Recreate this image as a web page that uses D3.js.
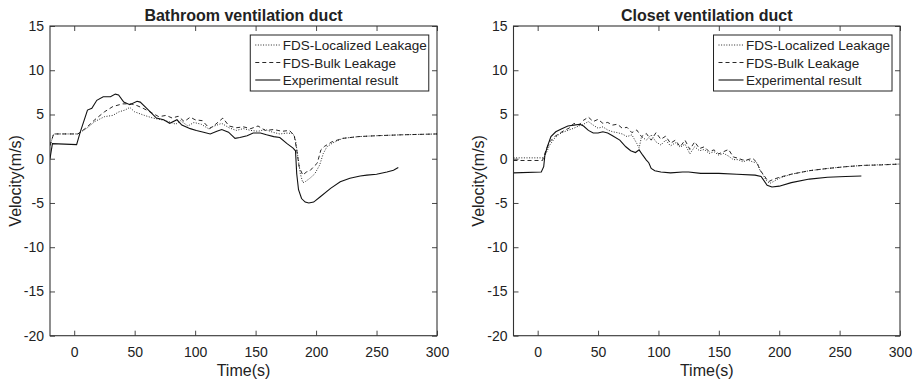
<!DOCTYPE html>
<html><head><meta charset="utf-8">
<script src="https://cdn.jsdelivr.net/npm/d3@7"></script>
<style>body{margin:0;background:#fff}svg{display:block}text{font-family:"Liberation Sans",Arial,sans-serif;fill:#222}</style>
</head><body><svg id="c" width="917" height="381"></svg>
<script>
// ---------- data ----------
const xTicks = [0, 50, 100, 150, 200, 250, 300];
const yTicks = [15, 10, 5, 0, -5, -10, -15, -20];
const seriesNames = ["FDS-Localized Leakage", "FDS-Bulk Leakage", "Experimental result"];
const panelTitles = ["Bathroom ventilation duct", "Closet ventilation duct"];

// Bathroom
const bathExpT = [-20,-18,2,5,11,14.6,18.7,24,30,34,36.7,41,46,52,54.6,60,68,74,79,85,89,96,101,107,112.5,118,122,127.6,133,137,143,148,154,159,165,170,176,181,183,184,185.5,188,191,194,198,203.5,212,220,228,236.5,242,250,258.6,264,268];
const bathExpV = [0,1.7,1.6,3,5.5,5.7,6.6,7.0,7.0,7.3,7.2,6.4,6.1,6.5,6.4,5.7,4.6,4.4,4.0,4.4,3.8,3.4,3.2,3.0,2.8,3.1,3.3,3.0,2.3,2.4,2.6,2.9,2.9,2.7,2.5,2.4,1.7,1.2,0.9,-1.7,-3.5,-4.5,-4.9,-5.0,-4.9,-4.3,-3.35,-2.6,-2.2,-1.95,-1.85,-1.75,-1.5,-1.3,-1.0];
const bathBulkT = [-20,-17,3,10,17,25,32,40,47,52,57,64,70,76,81,86,91,96,100,106,112,117,123,128,134,140,146,152,158,165,172,178,182,184,186,189,192,195,198,201,204,207,213,222,235,250,270,300];
const bathBulkV = [1.5,2.8,2.8,3.5,4.4,5.3,5.9,6.2,6.2,6.0,5.7,5.2,4.75,4.9,4.6,4.8,4.2,4.7,4.4,4.3,3.4,3.9,4.6,3.7,3.5,3.6,3.4,3.7,3.2,3.3,3.1,3.2,2.6,1.0,-0.9,-1.85,-1.5,-1.35,-0.9,-0.5,1.0,1.4,1.9,2.3,2.5,2.6,2.7,2.8];
const bathLocT = [-20,-17,3,10,17,25,32,37,42,46,50,58,65,72,78,84,88,94,99,105,111,116,122,128,134,140,146,152,158,164,170,176,181,183,185,187,189,191,195,199,203,206,209,214,222,235,250,270,300];
const bathLocV = [1.5,2.8,2.8,3.4,4.2,4.75,4.9,5.3,5.5,5.8,5.3,4.9,4.6,4.4,4.2,3.9,4.3,3.7,4.1,3.9,3.4,3.7,4.0,3.5,3.2,3.4,3.2,3.1,3.3,3.0,2.8,2.9,2.85,2.1,0.2,-1.7,-2.7,-2.6,-2.2,-1.7,-0.7,0.6,1.35,1.8,2.3,2.5,2.6,2.7,2.8];

// Closet
const closExpT = [-20,3,5,6,8,11,15,20,25,30,35,38,42,46,50,54,58,62,68,73,77,81,84,87,90,92,94,97,102,110,120,125,135,150,165,180,185,190,194,200,210,225,240,255,268];
const closExpV = [-1.6,-1.5,-0.9,0.4,1.35,2.5,3.05,3.4,3.7,3.8,3.9,3.7,3.2,2.9,2.9,3.05,2.9,2.6,2.1,1.35,0.9,0.7,1.0,0.4,-0.15,-0.45,-1.1,-1.35,-1.5,-1.6,-1.5,-1.5,-1.65,-1.65,-1.75,-1.85,-2.0,-3.0,-3.2,-3.1,-2.7,-2.3,-2.1,-2.0,-1.95];
const closBulkT = [-20,4,5,7,10,14,18,22,26,30,34,38,42,46,50,54,58,62,66,70,74,78,82,86,90,94,98,102,106,110,114,118,122,126,130,134,138,142,146,150,154,158,162,166,170,174,178,181,183,185,188,191,194,200,210,225,240,255,270,285,300];
const closBulkV = [-0.2,-0.2,0.2,1.0,1.9,2.5,2.85,3.2,3.45,4.0,3.8,4.35,4.7,4.2,4.45,4.0,4.1,3.8,3.9,3.45,3.55,2.95,3.25,2.5,2.85,2.1,2.95,2.2,2.55,1.75,2.1,1.35,2.1,1.05,1.9,1.15,1.35,0.8,1.0,0.55,0.8,1.05,0.2,0.05,-0.15,-0.1,0.05,-0.35,-0.9,-1.45,-2.0,-2.6,-2.4,-2.1,-1.75,-1.35,-1.1,-0.9,-0.75,-0.7,-0.6];
const closLocT = [-20,5,7,10,14,18,22,26,30,34,38,42,46,50,54,58,62,66,70,74,78,82,84,86,90,94,98,102,106,110,114,118,122,126,130,134,138,142,146,150,154,158,162,166,170,174,178,182,184,186,189,192,195,200,210,225,240,255,270,300];
const closLocV = [0.1,0.1,0.6,1.55,2.3,2.8,3.05,3.25,3.45,3.7,3.9,4.2,3.8,3.45,3.6,3.25,3.05,2.95,2.8,2.5,2.7,1.75,1.2,2.5,2.1,2.7,1.9,1.55,2.1,1.45,1.8,1.3,1.65,0.55,1.35,0.9,1.05,0.6,0.8,0.4,0.6,0.3,-0.1,-0.1,-0.35,-0.15,-0.35,-0.5,-1.3,-1.65,-2.4,-2.8,-2.6,-2.2,-1.75,-1.35,-1.1,-0.9,-0.75,-0.6];

// ---------- drawing ----------
const svg = d3.select("#c");
const dashes = ["1,1.6", "4,3", null];
const panels = [
  {left: 50, right: 437, title: panelTitles[0],
   series: [[bathLocT, bathLocV], [bathBulkT, bathBulkV], [bathExpT, bathExpV]]},
  {left: 513.5, right: 900, title: panelTitles[1],
   series: [[closLocT, closLocV], [closBulkT, closBulkV], [closExpT, closExpV]]}
];
const plotTop = 26, plotBottom = 335.7;

panels.forEach(p => {
  const x = d3.scaleLinear().domain([-20, 300]).range([p.left, p.right]);
  const y = d3.scaleLinear().domain([-20, 15]).range([plotBottom, plotTop]);
  const g = svg.append("g");
  const tl = 5;

  const ax = (gen, tr) => g.append("g").attr("transform", tr).call(gen);
  const xb = ax(d3.axisBottom(x).tickValues(xTicks).tickSizeInner(-tl).tickSizeOuter(0).tickPadding(11), `translate(0,${plotBottom})`);
  const xt = ax(d3.axisTop(x).tickValues(xTicks).tickSizeInner(-tl).tickSizeOuter(0).tickFormat(""), `translate(0,${plotTop})`);
  const yl = ax(d3.axisLeft(y).tickValues(yTicks).tickSizeInner(-tl).tickSizeOuter(0).tickPadding(6), `translate(${p.left},0)`);
  const yr = ax(d3.axisRight(y).tickValues(yTicks).tickSizeInner(-tl).tickSizeOuter(0).tickFormat(""), `translate(${p.right},0)`);
  [xb, xt, yl, yr].forEach(a => {
    a.select(".domain").remove();
    a.selectAll("line").attr("stroke", "#333").attr("stroke-width", 0.9);
    a.selectAll("text").style("font-size", "14px").attr("fill", "#222");
  });
  yl.selectAll("text").text(d => d < 0 ? "-" + Math.abs(d) : d);

  g.append("rect").attr("x", p.left).attr("y", plotTop).attr("width", p.right - p.left).attr("height", plotBottom - plotTop)
    .attr("fill", "none").attr("stroke", "#333").attr("stroke-width", 1.1);

  const cid = "clip" + Math.round(p.left);
  svg.append("clipPath").attr("id", cid).append("rect")
    .attr("x", p.left).attr("y", plotTop).attr("width", p.right - p.left).attr("height", plotBottom - plotTop);

  const line = d3.line().x(d => x(d[0])).y(d => y(d[1]));
  p.series.forEach((s, i) => {
    const pts = s[0].map((t, k) => [t, s[1][k]]);
    g.append("path").datum(pts).attr("d", line).attr("clip-path", `url(#${cid})`)
      .attr("fill", "none").attr("stroke", "#111").attr("stroke-width", i === 2 ? 1.1 : 0.9)
      .attr("stroke-dasharray", dashes[i]);
  });

  // legend
  const lx = p.left + (p.right - p.left) * 0.5175, ly = 35, lw = 178.5, lh = 56;
  const lg = g.append("g");
  lg.append("rect").attr("x", lx).attr("y", ly).attr("width", lw).attr("height", lh)
    .attr("fill", "#fff").attr("stroke", "#222").attr("stroke-width", 1);
  seriesNames.forEach((n, i) => {
    const yy = ly + 10 + i * 17.5;
    lg.append("line").attr("x1", lx + 5).attr("x2", lx + 30).attr("y1", yy).attr("y2", yy)
      .attr("stroke", "#111").attr("stroke-width", i === 2 ? 1.1 : 0.9).attr("stroke-dasharray", dashes[i]);
    lg.append("text").attr("x", lx + 32.5).attr("y", yy + 5).style("font-size", "13.5px").text(n);
  });

  const cx = (p.left + p.right) / 2;
  g.append("text").attr("x", cx).attr("y", 20.5).attr("text-anchor", "middle")
    .style("font-size", "16px").style("font-weight", "bold").text(p.title);
  g.append("text").attr("x", cx).attr("y", 376).attr("text-anchor", "middle").style("font-size", "16px").text("Time(s)");
  g.append("text").attr("transform", `translate(${p.left - 29.5},${(plotTop + plotBottom) / 2}) rotate(-90)`)
    .attr("text-anchor", "middle").style("font-size", "16px").text("Velocity(m/s)");
});
</script></body></html>
